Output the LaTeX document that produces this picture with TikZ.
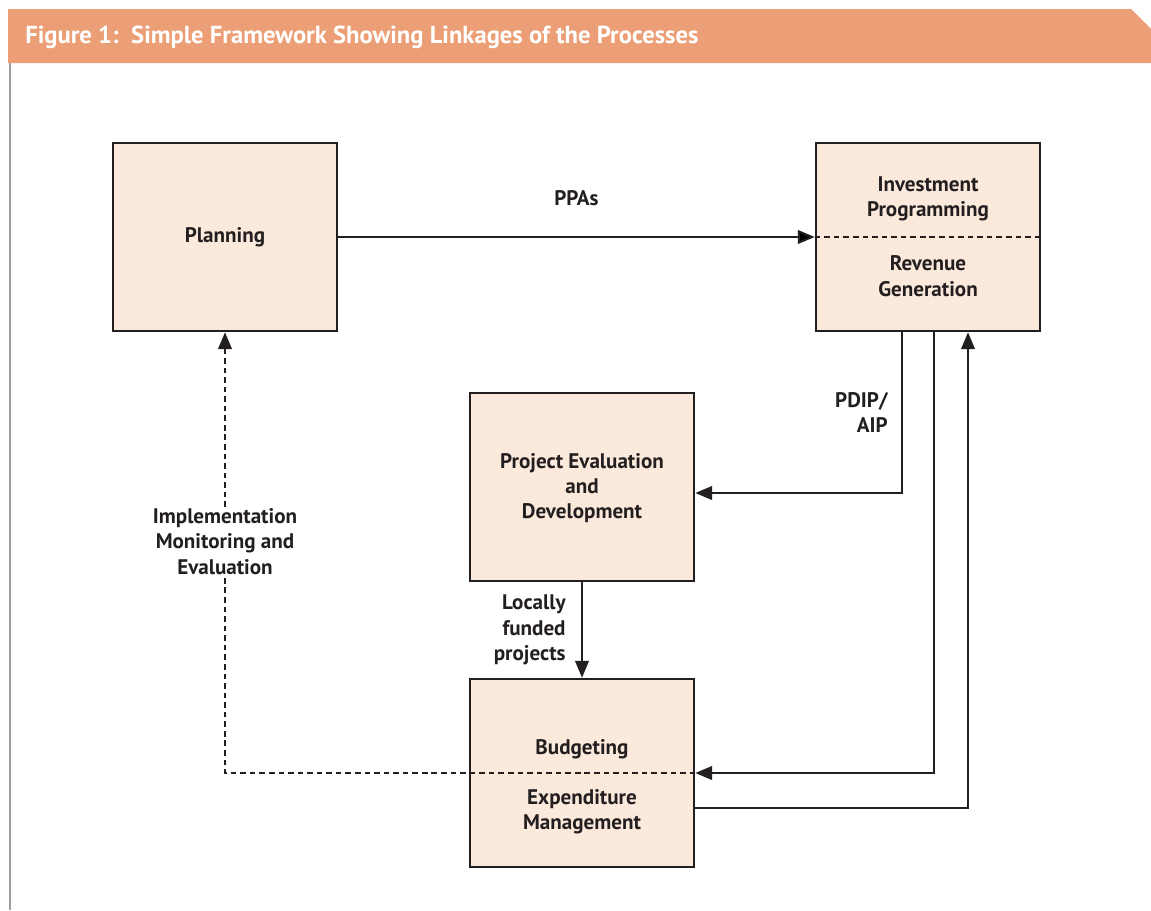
\documentclass[tikz,border=0pt]{standalone}
\usepackage{fontspec}
\setmainfont{PT Sans}
\usetikzlibrary{arrows.meta,calc}

\definecolor{bandorange}{RGB}{236,159,118}
\definecolor{boxfill}{RGB}{251,233,220}
\definecolor{inkdark}{RGB}{35,31,32}

\begin{document}
\begin{tikzpicture}[x=0.025cm,y=-0.025cm,
    >={Triangle[length=4.2mm,width=3.4mm]},
    every node/.style={font=\bfseries\fontsize{15pt}{18pt}\selectfont,text=inkdark},
    procbox/.style={draw=inkdark,line width=1.8pt,fill=boxfill,
      minimum width=5.6cm,minimum height=4.7cm,inner sep=0pt},
    link/.style={draw=inkdark,line width=1.4pt},
    dashlink/.style={link,dash pattern=on 4pt off 2.8pt},
    lbl/.style={align=center,inner sep=1pt}
  ]
    \useasboundingbox (0,0) rectangle (1151,910);

    % header band and side rule
    \fill[bandorange] (8,9) -- (1131,9) -- (1151,29) -- (1151,63) -- (8,63) -- cycle;
    \node[anchor=west,text=white,inner sep=0pt,font=\bfseries\fontsize{17.5pt}{20pt}\selectfont] (title) at (25,37)
      {Figure 1:\ \ Simple Framework Showing Linkages of the Processes};
    \draw[color=black!38,line width=1.4pt] (10,63) -- (10,910);

    % the four process boxes
    \node[procbox] (plan)     at (225,237) {Planning};
    \node[procbox] (invest)   at (928,237) {};
    \node[procbox] (projeval) at (582,487) {};
    \node[procbox] (budget)   at (582,773) {};

    \node[lbl] (invtop) at (928,199) {Investment\\Programming};
    \node[lbl] (invbot) at (928,276) {Revenue\\Generation};
    \node[lbl] (evaltxt) at (582,488) {Project Evaluation\\and\\Development};
    \node[lbl] (budtop) at (582,749) {Budgeting};
    \node[lbl] (budbot) at (582,812) {Expenditure\\Management};

    \draw[dashlink] (invest.west) -- (invest.east);

    % connectors
    \path[link] (plan.east) edge[->] node[midway,above=0.65cm] (ppas) {PPAs} (invest.west);
    \draw[link,->] ([xshift=-0.65cm]invest.south) |- ([yshift=-0.15cm]projeval.east)
      node[pos=0.25,left=0.3cm,lbl,align=right] (pdip) {PDIP/\\AIP};
    \draw[link,->] (projeval.south) -- (budget.north)
      node[midway,left=0.35cm,lbl,align=right] (local) {Locally\\funded\\projects};
    \draw[link,->] ([xshift=0.15cm]invest.south) |- (budget.east);
    \draw[link,->] ([yshift=-0.875cm]budget.east) -| ([xshift=1cm]invest.south);
    \draw[dashlink,->] (budget.east) -| (plan.south)
      node[pos=0.7625,lbl,fill=white] (monit) {Implementation\\Monitoring and\\Evaluation};
  \end{tikzpicture}
\end{document}
